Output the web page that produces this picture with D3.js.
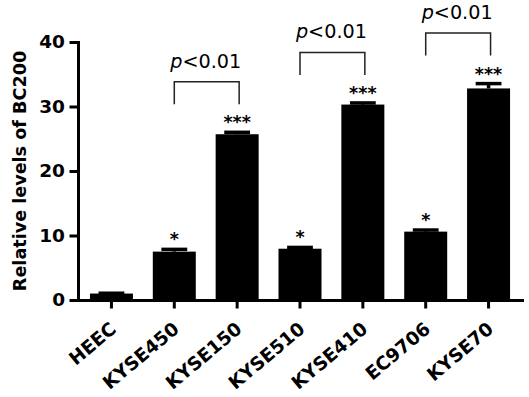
<html>
<head>
  <script type="text/javascript" src="https://d3js.org/d3.v7.min.js"></script>
  <style>
      body { margin: 0; background: #fff; }
      svg { display: block; font-family: "DejaVu Sans", sans-serif; }
  </style>
</head>
<body>
<div id="chart"></div>
<script>
    // values
    const categories = ["HEEC", "KYSE450", "KYSE150", "KYSE510", "KYSE410", "EC9706", "KYSE70"];
    const means = [1.0, 7.5, 25.7, 7.95, 30.3, 10.6, 32.8];
    const errors = [0.05, 0.35, 0.3, 0.2, 0.25, 0.25, 0.75];
    const stars = ["", "*", "***", "*", "***", "*", "***"];
    const yTicks = [0, 10, 20, 30, 40];
    const pairs = [["KYSE450", "KYSE150"], ["KYSE510", "KYSE410"], ["EC9706", "KYSE70"]];
    const pLabels = ["<0.01", "<0.01", "<0.01"];
    const yTitle = "Relative levels of BC200";

    let width = 529;
    let height = 397;

    const svg = d3.select('#chart')
        .append('svg')
        .attr('width', width)
        .attr('height', height);

    const xScale = d3.scaleBand()
        .domain(categories)
        .range([78, 522])
        .paddingInner(0.316)
        .paddingOuter(0.19);

    const yScale = d3.scaleLinear()
        .domain([0, 40])
        .range([300, 42]);

    const data = categories.map((c, i) => ({name: c, mean: means[i], err: errors[i], star: stars[i]}));
    const cx = name => xScale(name) + xScale.bandwidth() / 2;

    // bars
    svg.selectAll(".bar")
        .data(data)
        .enter()
        .append("rect")
        .attr("class", "bar")
        .attr("x", d => xScale(d.name))
        .attr("y", d => yScale(d.mean))
        .attr("width", xScale.bandwidth())
        .attr("height", d => yScale(0) - yScale(d.mean))
        .attr("fill", "#000");

    // error bars (upper only)
    const capW = xScale.bandwidth() * 0.6;
    const eb = svg.selectAll(".err")
        .data(data)
        .enter()
        .append("g")
        .attr("class", "err")
        .attr("stroke", "#000")
        .attr("stroke-width", 3.5);
    eb.append("line")
        .attr("x1", d => cx(d.name)).attr("x2", d => cx(d.name))
        .attr("y1", d => yScale(d.mean)).attr("y2", d => yScale(d.mean + d.err));
    eb.append("line")
        .attr("x1", d => cx(d.name) - capW / 2).attr("x2", d => cx(d.name) + capW / 2)
        .attr("y1", d => yScale(d.mean + d.err)).attr("y2", d => yScale(d.mean + d.err));

    // significance stars
    svg.selectAll(".star")
        .data(data.filter(d => d.star))
        .enter()
        .append("text")
        .attr("class", "star")
        .attr("x", d => cx(d.name))
        .attr("y", d => yScale(d.mean + d.err) - 4)
        .attr("text-anchor", "middle")
        .attr("font-weight", "bold")
        .attr("font-size", 17.5)
        .text(d => d.star);

    // brackets with p values
    pairs.forEach((p, i) => {
        let top = d3.max(data.filter(d => p.includes(d.name)), d => d.mean + d.err);
        let yb = yScale(top) - 28;
        let yt = yb - 22.5;
        let x1 = cx(p[0]), x2 = cx(p[1]) + 2;
        svg.append("path")
            .attr("d", `M${x1},${yb}V${yt}H${x2}V${yb}`)
            .attr("fill", "none")
            .attr("stroke", "#222")
            .attr("stroke-width", 1.5);
        let t = svg.append("text")
            .attr("x", (x1 + x2) / 2 - 1)
            .attr("y", yt - 14)
            .attr("text-anchor", "middle")
            .attr("font-size", 19.2);
        t.append("tspan").attr("font-style", "italic").text("p");
        t.append("tspan").text(pLabels[i]);
    });

    // axes
    const xAxis = svg.append("g")
        .attr("transform", "translate(0," + yScale(0) + ")")
        .call(d3.axisBottom(xScale).tickSize(7).tickSizeOuter(0));
    xAxis.selectAll("text")
        .attr("font-family", "DejaVu Sans")
        .attr("font-size", 18.5)
        .attr("font-weight", "bold")
        .attr("fill", "#000")
        .attr("text-anchor", "end")
        .attr("x", null).attr("y", null).attr("dy", null)
        .attr("transform", "translate(6,31) rotate(-40)");

    const yAxis = svg.append("g")
        .attr("transform", "translate(78,0)")
        .call(d3.axisLeft(yScale).tickValues(yTicks).tickSize(7).tickPadding(6).tickSizeOuter(0));
    yAxis.selectAll("text")
        .attr("font-family", "DejaVu Sans")
        .attr("font-size", 18.5)
        .attr("font-weight", "bold")
        .attr("fill", "#000");

    svg.selectAll(".domain, .tick line")
        .attr("stroke", "#000")
        .attr("stroke-width", 3)
        .attr("stroke-linecap", "square");

    svg.append("text")
        .attr("transform", "translate(26," + (yScale(0) + yScale(40)) / 2 + ") rotate(-90)")
        .attr("text-anchor", "middle")
        .attr("font-weight", "bold")
        .attr("font-size", 17.6)
        .text(yTitle);
</script>
</body>
</html>
